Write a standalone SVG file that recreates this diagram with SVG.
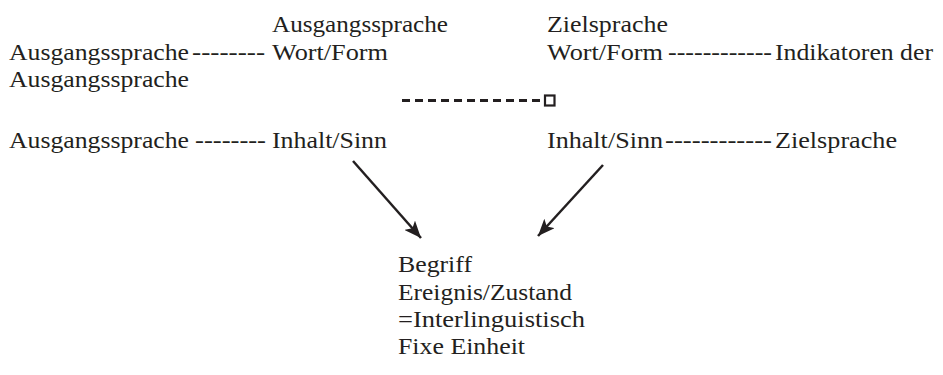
<svg xmlns="http://www.w3.org/2000/svg" width="943" height="375" viewBox="0 0 943 375">
<style>
text{font-family:'Liberation Serif','Times New Roman',Times,serif;font-size:24px;fill:#231f20}
.c{stroke:#231f20;fill:none}
</style>
<defs>
<marker id="ah" markerUnits="userSpaceOnUse" markerWidth="18" markerHeight="14" viewBox="0 0 18 14" refX="17" refY="7" orient="auto">
<path d="M0,0 L17,7 L0,14 L4,7 Z" fill="#231f20"/>
</marker>
</defs>
<rect width="943" height="375" fill="#fff"/>
<g id="src-head"><text x="272" y="32" textLength="176" lengthAdjust="spacingAndGlyphs">Ausgangssprache</text></g>
<g id="tgt-head"><text x="547" y="32" textLength="121" lengthAdjust="spacingAndGlyphs">Zielsprache</text></g>
<g id="src-form-label">
<text x="9" y="60" textLength="180" lengthAdjust="spacingAndGlyphs">Ausgangssprache</text>
<text x="9" y="87" textLength="180" lengthAdjust="spacingAndGlyphs">Ausgangssprache</text>
</g>
<g id="src-form-dash"><text x="192" y="60" textLength="73" lengthAdjust="spacingAndGlyphs">--------</text></g>
<g id="src-form"><text x="272" y="60" textLength="116" lengthAdjust="spacingAndGlyphs">Wort/Form</text></g>
<g id="tgt-form"><text x="547" y="60" textLength="116" lengthAdjust="spacingAndGlyphs">Wort/Form</text></g>
<g id="tgt-form-dash"><text x="668" y="60" textLength="104" lengthAdjust="spacingAndGlyphs">------------</text></g>
<g id="tgt-form-label"><text x="775" y="60" textLength="158" lengthAdjust="spacingAndGlyphs">Indikatoren der</text></g>
<g id="src-sense-label"><text x="9" y="148" textLength="180" lengthAdjust="spacingAndGlyphs">Ausgangssprache</text></g>
<g id="src-sense-dash"><text x="195" y="148" textLength="71" lengthAdjust="spacingAndGlyphs">--------</text></g>
<g id="src-sense"><text x="272" y="148" textLength="115" lengthAdjust="spacingAndGlyphs">Inhalt/Sinn</text></g>
<g id="tgt-sense"><text x="547" y="148" textLength="116" lengthAdjust="spacingAndGlyphs">Inhalt/Sinn</text></g>
<g id="tgt-sense-dash"><text x="665" y="148" textLength="107" lengthAdjust="spacingAndGlyphs">------------</text></g>
<g id="tgt-sense-label"><text x="775" y="148" textLength="122" lengthAdjust="spacingAndGlyphs">Zielsprache</text></g>
<g id="concept">
<text x="398" y="272" textLength="74" lengthAdjust="spacingAndGlyphs">Begriff</text>
<text x="398" y="300" textLength="174" lengthAdjust="spacingAndGlyphs">Ereignis/Zustand</text>
<text x="398" y="327" textLength="187" lengthAdjust="spacingAndGlyphs">=Interlinguistisch</text>
<text x="398" y="354" textLength="127" lengthAdjust="spacingAndGlyphs">Fixe Einheit</text>
</g>
<g id="connectors">
<line class="c" x1="402" y1="100.5" x2="544" y2="100.5" stroke-width="3" stroke-dasharray="8 5"/>
<rect class="c" x="545" y="95.5" width="9.5" height="10" stroke-width="2.2"/>
<line class="c" x1="353" y1="161" x2="421" y2="238" stroke-width="2.5" marker-end="url(#ah)"/>
<line class="c" x1="603" y1="165" x2="538" y2="236" stroke-width="2.5" marker-end="url(#ah)"/>
</g>
</svg>
